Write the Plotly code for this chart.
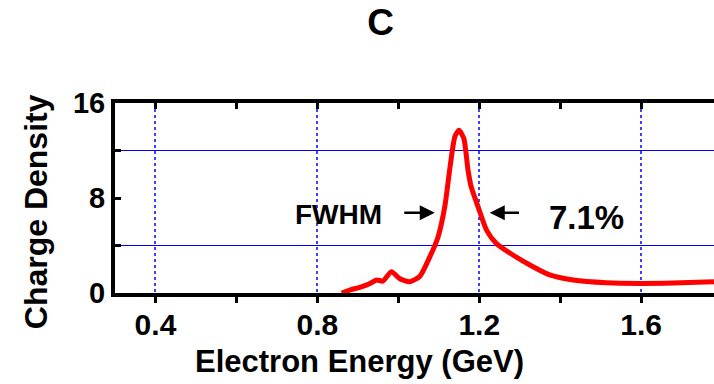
import plotly.graph_objects as go

# Data
energy = [0.86, 0.88, 0.905, 0.93, 0.946, 0.962, 0.983, 1.004, 1.028, 1.053,
          1.078, 1.098, 1.115, 1.127, 1.140, 1.150, 1.162, 1.172, 1.180, 1.197, 1.218,
          1.242, 1.283, 1.325, 1.374, 1.432, 1.514, 1.596, 1.678, 1.78]
density = [0.0, 0.25, 0.48, 0.8, 1.1, 1.0, 1.8, 1.2, 0.95, 1.4,
           3.06, 4.7, 7.3, 10.4, 13.2, 13.7, 13.0, 10.4, 8.95, 7.27, 5.3,
           4.18, 3.2, 2.36, 1.52, 1.1, 0.87, 0.81, 0.84, 0.95]

x_ticks = [0.4, 0.8, 1.2, 1.6]
x_ticklabels = ["0.4", "0.8", "1.2", "1.6"]
x_minor = [0.6, 1.0, 1.4]
y_ticks = [0, 8, 16]
y_ticklabels = ["0", "8", "16"]
y_minor = [4, 12]

x_title = "Electron Energy (GeV)"
y_title = "Charge Density"

# annotation anchors (data coords)
fwhm_y = 6.75
arrow_left = (1.011, 1.090)
arrow_right = (1.302, 1.226)

FONT = "Liberation Sans, Arial, sans-serif"
BLUE = "#0000ff"

fig = go.Figure()
fig.add_trace(go.Scatter(x=energy, y=density, mode="lines",
                         line=dict(color="#ff0000", width=5, shape="spline", smoothing=0.6),
                         hoverinfo="skip", showlegend=False))
fig.add_trace(go.Scatter(x=energy, y=density, mode="lines", xaxis="x2", yaxis="y2",
                         line=dict(color="rgba(0,0,0,0)", width=0),
                         hoverinfo="skip", showlegend=False))

fig.update_layout(
    width=714, height=384,
    margin=dict(l=115, r=0, t=103, b=91),
    paper_bgcolor="white", plot_bgcolor="white",
    font=dict(family=FONT, color="black", size=22, weight=700),
    title=dict(text="C", x=0.533, xanchor="center", y=0.942, yanchor="middle",
               font=dict(family=FONT, size=37, weight=700, color="black")),
    xaxis=dict(range=[0.3, 1.78], tickvals=x_ticks, ticktext=x_ticklabels,
               showline=True, linecolor="black", linewidth=4, mirror=True,
               ticks="outside", ticklen=6, tickwidth=3, tickcolor="black",
               ticklabelstandoff=-4,
               showgrid=True, gridcolor="#4040ff", gridwidth=2, griddash="dot",
               zeroline=False,
               minor=dict(tickvals=x_minor, ticks="outside", ticklen=6,
                          tickwidth=3, tickcolor="black", showgrid=False),
               tickfont=dict(size=30, weight=700)),
    xaxis2=dict(range=[0.3, 1.78], overlaying="x", side="top",
                tickvals=x_ticks + x_minor, showticklabels=False,
                ticks="inside", ticklen=6, tickwidth=3, tickcolor="black",
                showgrid=False, zeroline=False, showline=False),
    yaxis=dict(range=[0, 16], tickvals=y_ticks, ticktext=y_ticklabels,
               showline=True, linecolor="black", linewidth=4,
               ticks="inside", ticklen=6, tickwidth=3, tickcolor="black",
               showgrid=False, zeroline=False,
               tickfont=dict(size=29, weight=700)),
    yaxis2=dict(range=[0, 16], overlaying="y", side="left",
                tickvals=y_minor, showticklabels=False,
                ticks="inside", ticklen=6, tickwidth=3, tickcolor="black",
                showgrid=True, gridcolor=BLUE, gridwidth=1,
                zeroline=False, showline=False),
)

# axis titles (offset as in the cropped original figure)
fig.add_annotation(text=x_title, xref="paper", yref="paper", x=0.409, y=-0.362,
                   xanchor="center", yanchor="middle", showarrow=False,
                   font=dict(size=31, weight=700, color="black"))
fig.add_annotation(text=y_title, xref="paper", yref="paper", x=-0.132, y=0.43,
                   xanchor="center", yanchor="middle", showarrow=False, textangle=-90,
                   font=dict(size=32, weight=700, color="black"))

fig.add_annotation(x=arrow_left[1], y=fwhm_y, ax=arrow_left[0], ay=fwhm_y,
                   xref="x", yref="y", axref="x", ayref="y", text="",
                   showarrow=True, arrowhead=2, arrowsize=1.2, arrowwidth=2.5,
                   arrowcolor="black")
fig.add_annotation(x=arrow_right[1], y=fwhm_y, ax=arrow_right[0], ay=fwhm_y,
                   xref="x", yref="y", axref="x", ayref="y", text="",
                   showarrow=True, arrowhead=2, arrowsize=1.2, arrowwidth=2.5,
                   arrowcolor="black")
fig.add_annotation(x=0.965, y=fwhm_y - 0.1, xref="x", yref="y", text="FWHM",
                   showarrow=False, xanchor="right",
                   font=dict(size=28, weight=700, color="black"))
fig.add_annotation(x=1.464, y=fwhm_y - 0.35, xref="x", yref="y", text="7.1%",
                   showarrow=False, xanchor="center",
                   font=dict(size=33, weight=700, color="black"))

fig.write_html("out.html")
